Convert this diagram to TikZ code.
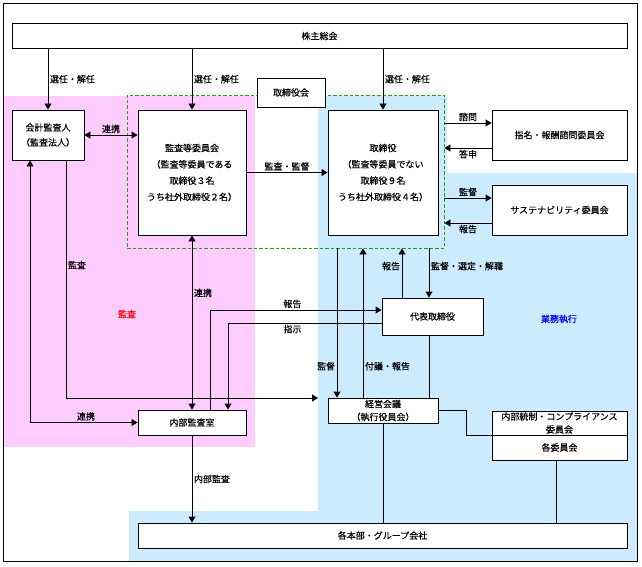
\documentclass[tikz,border=0pt]{standalone}
\usepackage{fontspec}
\setmainfont{Noto Sans CJK JP}[FakeBold=0.3]
\usetikzlibrary{arrows.meta}

\definecolor{auditpink}{HTML}{FFCCFF}
\definecolor{execblue}{HTML}{CCEBFF}
\definecolor{boardgreen}{HTML}{22A022}

\tikzset{
	orgbox/.style={draw, line width=0.9pt, fill=white, align=center, inner sep=0pt, font=\fontsize{9}{16.3}\selectfont},
	lbl/.style={font=\fontsize{9}{11}\selectfont, inner sep=1.5pt},
	arr/.style={line width=0.9pt, -{Triangle[length=6pt,width=7pt]}},
	dblarr/.style={line width=0.9pt, {Triangle[length=6pt,width=7pt]}-{Triangle[length=6pt,width=7pt]}},
	link/.style={line width=0.9pt},
	boardframe/.style={draw=boardgreen, line width=0.9pt, dash pattern=on 3.5pt off 2pt, inner sep=0pt},
}

\begin{document}
\begin{tikzpicture}[x=1pt, y=-1pt]
	\useasboundingbox (0,0) rectangle (642,567);

	% areas: audit (pink) and execution (blue)
	\fill[auditpink] (3,96) rectangle (255,447);
	\fill[execblue] (318,96) -- (447,96) -- (447,173) -- (637,173) -- (637,561)
		-- (129,561) -- (129,511) -- (318,511) -- cycle;
	\draw[line width=0.9pt] (3,3) rectangle (637,561);

	% board of directors (dashed)
	\node[boardframe, minimum width=317pt, minimum height=153pt] (board) at (285.5,171.5) {};

	% 1. boxes
	\node[orgbox, minimum width=615pt, minimum height=24.5pt] (sh) at (319.5,36) {株主総会};
	\node[orgbox, minimum width=68pt, minimum height=29pt] (bod) at (291,92.5) {取締役会};
	\node[orgbox, minimum width=72pt, minimum height=50pt, font=\fontsize{9}{15}\selectfont] (kaikei) at (48,135) {会計監査人\\（監査法人）};
	\node[orgbox, minimum width=108pt, minimum height=125pt] (kansa) at (192,172.5)
		{監査等委員会\\（監査等委員である\\取締役３名\\うち社外取締役２名）};
	\node[orgbox, minimum width=110pt, minimum height=125pt] (tori) at (383,172.5)
		{取締役\\（監査等委員でない\\取締役９名\\うち社外取締役４名）};
	\node[orgbox, minimum width=135pt, minimum height=50pt] (shimei) at (559.5,135) {指名・報酬諮問委員会};
	\node[orgbox, minimum width=135pt, minimum height=50pt] (sust) at (559.5,210) {サステナビリティ委員会};
	\node[orgbox, minimum width=101pt, minimum height=37pt] (daihyo) at (432.5,316.5) {代表取締役};
	\node[orgbox, minimum width=108pt, minimum height=25pt] (naibu) at (192,422.5) {内部監査室};
	\node[orgbox, minimum width=110pt, minimum height=25pt, font=\fontsize{9}{13}\selectfont] (keiei) at (383,410.5) {経営会議\\（執行役員会）};
	\node[orgbox, minimum width=135pt, minimum height=24pt, font=\fontsize{9}{13}\selectfont] (naitou) at (559.5,423) {内部統制・コンプライアンス\\委員会};
	\node[orgbox, minimum width=135pt, minimum height=25pt] (kakui) at (559.5,447.5) {各委員会};
	\node[orgbox, minimum width=489pt, minimum height=25pt] (kakuhon) at (382.5,535.5) {各本部・グループ会社};

	% area labels
	\node[lbl, text=red] (auditlbl) at (127,314) {監査};
	\node[lbl, text=blue] (execlbl) at (559,319) {業務執行};

	% 2. election by shareholders
	\foreach \b in {kaikei, kansa, tori}
		\draw[arr] (sh.south -| \b.north) -- node[lbl, right] {選任・解任} (\b.north);

	% 3. upper connectors
	\draw[dblarr] (kaikei.east) -- node[lbl, above] {連携} (kaikei.east -| kansa.west);
	\draw[arr] (kansa.east) -- node[lbl, above] {監査・監督} (tori.west);
	\draw[arr] (board.east |- 0,123) -- node[lbl, above] {諮問} (shimei.west |- 0,123);
	\draw[arr] (shimei.west |- 0,148) -- node[lbl, below] {答申} (board.east |- 0,148);
	\draw[arr] (board.east |- 0,198) -- node[lbl, above] {監督} (sust.west |- 0,198);
	\draw[arr] (sust.west |- 0,223) -- node[lbl, below] {報告} (board.east |- 0,223);

	% 4. audit side
	\coordinate (auditend) at (318,398);
	\draw[dblarr] (kansa.south) -- node[lbl, right, pos=0.33] {連携} (naibu.north);
	\draw[dblarr] (kaikei.south -| 30,0) |- node[lbl, above, pos=0.76] {連携} (naibu.west);
	\draw[arr] (kaikei.south -| 66,0) |- node[lbl, right, pos=0.22] {監査} (auditend);
	\draw[arr] (naibu.north -| 210,0) |- node[lbl, above, pos=0.74] {報告} (daihyo.west |- 0,310);
	\draw[arr] (daihyo.west |- 0,323) -| node[lbl, below, pos=0.29] {指示} (naibu.north -| 228,0);
	\draw[arr] (naibu.south) -- node[lbl, right] {内部監査} (naibu.south |- kakuhon.north);

	% 5. execution side
	\draw[arr] (board.south -| 337,0) -- node[lbl, left, pos=0.79] {監督} (keiei.north -| 337,0);
	\draw[arr] (keiei.north -| 363,0) -- node[lbl, right, pos=0.21] {付議・報告} (board.south -| 363,0);
	\draw[arr] (daihyo.north -| 402,0) -- node[lbl, left, pos=0.64] {報告} (board.south -| 402,0);
	\draw[arr] (board.south -| 429,0) -- node[lbl, right, pos=0.36] {監督・選定・解職} (daihyo.north -| 429,0);
	\draw[link] (daihyo.south -| 429,0) -- (keiei.north -| 429,0);
	\draw[link] (keiei.east) -- ++(28,0) |- (naitou.south west);
	\draw[link] (keiei.south) -- (keiei.south |- kakuhon.north);
	\draw[link] (kakui.south -| 556,0) -- (kakuhon.north -| 556,0);
\end{tikzpicture}
\end{document}
